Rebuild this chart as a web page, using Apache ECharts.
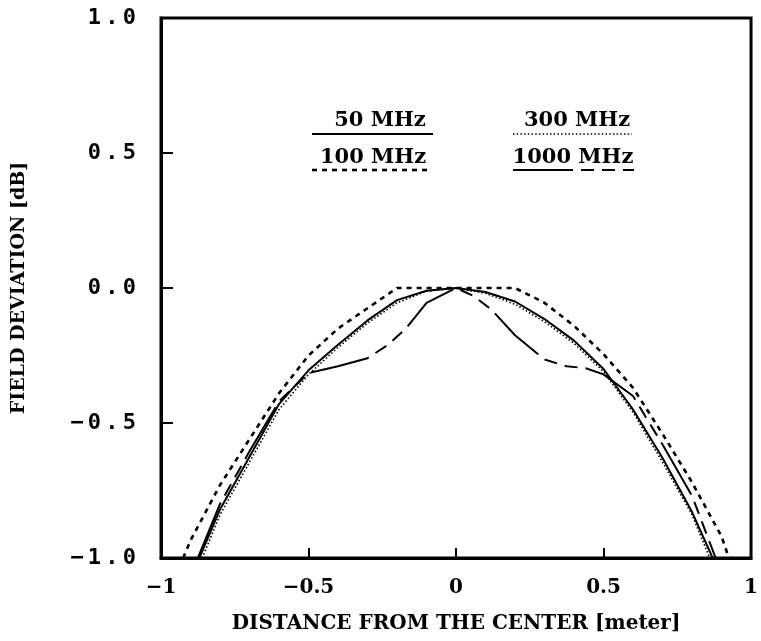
<!DOCTYPE html>
<html>
<head>
<meta charset="utf-8">
<script src="https://cdn.jsdelivr.net/npm/echarts@6/dist/echarts.min.js"></script>
<style>
  html, body { margin: 0; padding: 0; background: #fff; }
  #chart { width: 761px; height: 641px; }
</style>
</head>
<body>
<div id="chart"></div>
<script>
// Field deviation across the test volume, per frequency
const x50   = [-0.87, -0.8, -0.7, -0.6, -0.5, -0.4, -0.3, -0.2, -0.1, 0, 0.1, 0.2, 0.3, 0.4, 0.5, 0.6, 0.7, 0.8, 0.87];
const y50   = [-1.0, -0.82, -0.625, -0.43, -0.305, -0.21, -0.12, -0.045, -0.01, 0, -0.015, -0.05, -0.115, -0.195, -0.30, -0.45, -0.63, -0.83, -1.0];

const x100  = [-0.925, -0.9, -0.8, -0.7, -0.6, -0.5, -0.4, -0.3, -0.2, 0, 0.2, 0.3, 0.4, 0.5, 0.6, 0.7, 0.8, 0.9, 0.925];
const y100  = [-1.0, -0.935, -0.73, -0.56, -0.39, -0.25, -0.15, -0.075, 0, 0, 0, -0.055, -0.14, -0.245, -0.37, -0.54, -0.72, -0.92, -1.0];

const x300  = [-0.86, -0.8, -0.7, -0.6, -0.5, -0.4, -0.3, -0.2, -0.1, 0, 0.1, 0.2, 0.3, 0.4, 0.5, 0.6, 0.7, 0.8, 0.86];
const y300  = [-1.0, -0.84, -0.645, -0.45, -0.32, -0.22, -0.13, -0.055, -0.012, 0, -0.02, -0.06, -0.125, -0.205, -0.31, -0.46, -0.645, -0.84, -1.0];

const x1000 = [-0.875, -0.8, -0.7, -0.6, -0.5, -0.4, -0.3, -0.23, -0.17, -0.1, 0, 0.06, 0.12, 0.2, 0.3, 0.375, 0.44, 0.5, 0.6, 0.7, 0.8, 0.88];
const y1000 = [-1.0, -0.80, -0.605, -0.42, -0.315, -0.29, -0.26, -0.21, -0.15, -0.055, 0, -0.03, -0.08, -0.175, -0.265, -0.29, -0.297, -0.32, -0.40, -0.58, -0.77, -1.0];

const seriesNames = ['50 MHz', '100 MHz', '300 MHz', '1000 MHz'];
const xTickLabels = ['\u22121', '\u22120.5', '0', '0.5', '1'];
const yTickLabels = ['\u22121.0', '\u22120.5', '0.0', '0.5', '1.0'];
const xTickValues = [-1, -0.5, 0, 0.5, 1];
const yTickValues = [-1, -0.5, 0, 0.5, 1];

const pairs = (xs, ys) => xs.map((x, i) => [x, ys[i]]);

const SERIF = '"DejaVu Serif", serif';
const MONO = '"DejaVu Sans Mono", monospace';

const lineStyles = [
  { width: 2, type: 'solid' },
  { width: 2.6, type: [5, 5] },
  { width: 1.6, type: [1.5, 2.2] },
  { width: 2, type: [60, 8, 13, 8, 13, 8] }
];

// spread the y tick label characters on a fixed pitch
function spaced(str) {
  return str.split('').map(c => '{c|' + c + '}').join('');
}

const chart = echarts.init(document.getElementById('chart'), null, { renderer: 'canvas' });

// in-plot key: name above a sample of each line style
const legendItems = [
  { name: seriesNames[0], textX: 380, textY: 121, lineX1: 312, lineX2: 433, lineY: 134, style: 0 },
  { name: seriesNames[1], textX: 373, textY: 158, lineX1: 312, lineX2: 432, lineY: 170, style: 1 },
  { name: seriesNames[2], textX: 577, textY: 121, lineX1: 513, lineX2: 632, lineY: 134, style: 2 },
  { name: seriesNames[3], textX: 573, textY: 158, lineX1: 513, lineX2: 634, lineY: 170, style: 3 }
];

const graphic = [];
legendItems.forEach(it => {
  graphic.push({
    type: 'text',
    x: it.textX, y: it.textY,
    style: {
      text: it.name,
      fill: '#000',
      font: 'bold 21px ' + SERIF,
      textAlign: 'center',
      textVerticalAlign: 'middle'
    }
  });
  const ls = lineStyles[it.style];
  graphic.push({
    type: 'line',
    shape: { x1: it.lineX1, y1: it.lineY, x2: it.lineX2, y2: it.lineY },
    style: {
      stroke: '#000',
      lineWidth: ls.width,
      lineDash: ls.type === 'solid' ? null : ls.type
    }
  });
});

const data = [pairs(x50, y50), pairs(x100, y100), pairs(x300, y300), pairs(x1000, y1000)];

chart.setOption({
  animation: false,
  backgroundColor: '#fff',
  grid: {
    left: 161, right: 5, top: 18, bottom: 83,
    show: true, borderColor: '#000', borderWidth: 3, backgroundColor: 'transparent'
  },
  xAxis: {
    type: 'value',
    min: -1, max: 1, interval: 0.5,
    name: 'DISTANCE FROM THE CENTER [meter]',
    nameLocation: 'middle',
    nameGap: 56,
    nameTextStyle: { fontFamily: SERIF, fontWeight: 'bold', fontSize: 20, color: '#000' },
    axisLine: { show: true, onZero: false, lineStyle: { color: '#000', width: 3 } },
    axisTick: { show: true, inside: true, length: 10, lineStyle: { color: '#000', width: 2 } },
    splitLine: { show: false },
    axisLabel: {
      margin: 20,
      fontFamily: SERIF, fontWeight: 'bold', fontSize: 20, color: '#000',
      formatter: v => xTickLabels[xTickValues.indexOf(v)]
    }
  },
  yAxis: {
    type: 'value',
    min: -1, max: 1, interval: 0.5,
    name: 'FIELD DEVIATION [dB]',
    nameLocation: 'middle',
    nameGap: 132,
    nameRotate: 90,
    nameTextStyle: { fontFamily: SERIF, fontWeight: 'bold', fontSize: 19, color: '#000' },
    axisLine: { show: true, onZero: false, lineStyle: { color: '#000', width: 3 } },
    axisTick: { show: true, inside: true, length: 12, lineStyle: { color: '#000', width: 2 } },
    splitLine: { show: false },
    axisLabel: {
      margin: 23,
      formatter: v => spaced(yTickLabels[yTickValues.indexOf(v)]),
      rich: {
        c: { fontFamily: MONO, fontWeight: 'bold', fontSize: 22, color: '#000', width: 17.5, align: 'center' }
      }
    }
  },
  series: data.map((d, i) => ({
    name: seriesNames[i],
    type: 'line',
    data: d,
    showSymbol: false,
    symbol: 'none',
    smooth: false,
    clip: true,
    lineStyle: { color: '#000', width: lineStyles[i].width, type: lineStyles[i].type }
  })),
  graphic: graphic
});
</script>
</body>
</html>
